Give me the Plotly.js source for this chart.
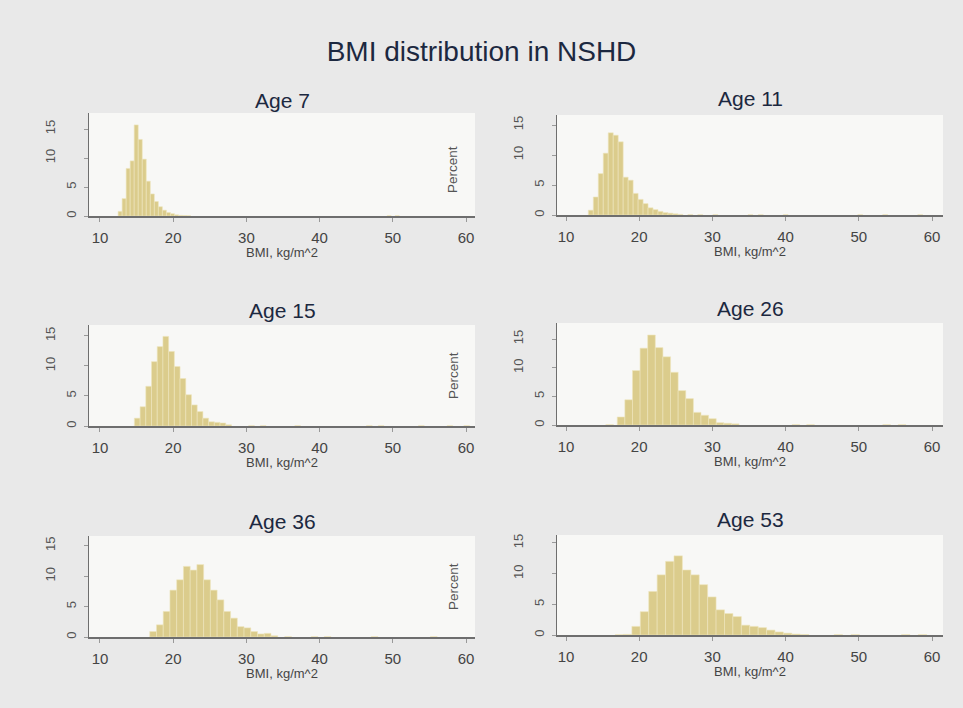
<!DOCTYPE html>
<html>
<head>
<meta charset="utf-8">
<script src="https://cdn.plot.ly/plotly-3.0.1.min.js"></script>
<style>
  html, body { margin: 0; padding: 0; background: #e9e9e9; }
  #chart { width: 963px; height: 708px; }
</style>
</head>
<body>
<div id="chart"></div>
<script>
// BMI histograms (percent of cohort per bin) at six ages
const ages = ['Age 7', 'Age 11', 'Age 15', 'Age 26', 'Age 36', 'Age 53'];

const age7Bins = [12.75, 13.3, 13.85, 14.4, 14.95, 15.5, 16.05, 16.6, 17.15, 17.7, 18.25, 18.8, 19.35, 19.9, 20.45, 21.0, 21.55, 22.1, 49.5, 50.6];
const age7Pct  = [0.8, 3.0, 8.2, 9.5, 15.7, 13.2, 9.8, 6.0, 3.8, 2.5, 1.6, 1.0, 0.6, 0.4, 0.2, 0.1, 0.08, 0.05, 0.05, 0.05];

const age11Bins = [13.39, 14.07, 14.75, 15.43, 16.11, 16.79, 17.47, 18.15, 18.83, 19.51, 20.19, 20.87, 21.55, 22.23, 22.91, 23.59, 24.27, 24.95, 25.63, 26.99, 28.35, 30.4, 35.2, 36.6, 40.0, 50.2, 53.6, 58.4];
const age11Pct  = [0.8, 3.0, 6.9, 10.3, 13.7, 13.3, 12.2, 6.3, 5.8, 3.6, 2.6, 1.9, 1.2, 0.9, 0.6, 0.4, 0.3, 0.2, 0.1, 0.06, 0.05, 0.04, 0.04, 0.04, 0.04, 0.04, 0.04, 0.04];

const age15Bins = [15.09, 15.87, 16.65, 17.43, 18.21, 18.99, 19.77, 20.55, 21.33, 22.11, 22.89, 23.67, 24.45, 25.23, 26.01, 26.79, 27.57, 30.7, 32.3, 37.0, 46.8, 48.4, 53.9, 57.8, 60.1];
const age15Pct  = [1.3, 3.2, 6.6, 10.7, 13.2, 14.9, 12.4, 9.9, 7.9, 5.2, 3.5, 2.4, 1.3, 0.7, 0.6, 0.5, 0.2, 0.04, 0.04, 0.04, 0.04, 0.04, 0.04, 0.04, 0.04];

const age26Bins = [15.96, 17.52, 18.56, 19.60, 20.64, 21.68, 22.72, 23.76, 24.80, 25.84, 26.88, 27.92, 28.96, 30.00, 31.04, 32.08, 33.12, 41.4, 43.4, 53.8, 55.9];
const age26Pct  = [0.05, 1.4, 4.4, 9.5, 13.4, 15.7, 13.5, 11.9, 9.2, 6.0, 4.6, 2.2, 1.7, 1.1, 0.4, 0.3, 0.2, 0.05, 0.05, 0.05, 0.05];

const age36Bins = [17.26, 18.18, 19.10, 20.02, 20.94, 21.86, 22.78, 23.70, 24.62, 25.54, 26.46, 27.38, 28.30, 29.22, 30.14, 31.06, 31.98, 32.90, 33.82, 35.7, 39.3, 41.1, 47.5, 55.6];
const age36Pct  = [0.9, 2.0, 4.2, 7.7, 9.4, 11.6, 11.0, 11.9, 9.4, 7.7, 6.1, 4.2, 3.1, 1.7, 1.5, 0.9, 0.5, 0.6, 0.2, 0.05, 0.05, 0.05, 0.05, 0.05];

const age53Bins = [17.3, 18.4, 19.575, 20.725, 21.875, 23.025, 24.175, 25.325, 26.475, 27.625, 28.775, 29.925, 31.075, 32.225, 33.375, 34.525, 35.675, 36.825, 37.975, 39.125, 40.275, 41.425, 42.6, 47.2, 49.5, 56.4, 58.7];
const age53Pct  = [0.05, 0.1, 1.4, 3.8, 7.1, 9.8, 12.0, 12.9, 10.6, 9.8, 8.2, 6.2, 4.1, 3.5, 3.0, 1.6, 1.4, 1.2, 0.8, 0.5, 0.3, 0.15, 0.08, 0.05, 0.05, 0.05, 0.05];

// histogram bin width used for each age
const binWidths = [0.55, 0.68, 0.78, 1.04, 0.92, 1.15];

const xTickVals = [10, 20, 30, 40, 50, 60];
const yTickVals = [0, 5, 10, 15];
const xTitle = 'BMI, kg/m^2';
const yTitle = 'Percent';
const mainTitle = 'BMI distribution in NSHD';

const allBins = [age7Bins, age11Bins, age15Bins, age26Bins, age36Bins, age53Bins];
const allPct  = [age7Pct, age11Pct, age15Pct, age26Pct, age36Pct, age53Pct];

// ---- page geometry (pixels) ----
const W = 963, H = 708;
const frames = [
  { px: [89, 475],  py: [113, 216], xr: [8.5, 61.23],  ytop: 17.76, ty: 100 },
  { px: [557, 943], py: [115, 215], xr: [8.77, 61.5],  ytop: 16.67, ty: 99 },
  { px: [89, 475],  py: [325, 426], xr: [8.5, 61.23],  ytop: 16.8,  ty: 310 },
  { px: [557, 943], py: [323, 425], xr: [8.77, 61.5],  ytop: 17.8,  ty: 309 },
  { px: [89, 475],  py: [536, 637], xr: [8.5, 61.23],  ytop: 16.6,  ty: 521 },
  { px: [557, 943], py: [535, 635], xr: [8.77, 61.5],  ytop: 16.3,  ty: 519 }
];
const percentRows = [170, 376, 587];

const FONT = 'Liberation Sans, Arial, sans-serif';
const NAVY = '#1c2840';
const AXIS = '#6e6e6e';
const BAR = 'rgb(219,204,140)';
const BAR_EDGE = 'rgb(238,230,190)';

const data = [];
const layout = {
  width: W, height: H,
  margin: { l: 0, r: 0, t: 0, b: 0 },
  paper_bgcolor: '#e9e9e9',
  plot_bgcolor: '#f8f8f6',
  showlegend: false,
  hovermode: false,
  font: { family: FONT, color: '#444' },
  title: {
    text: mainTitle,
    font: { family: FONT, size: 28, color: NAVY },
    x: 0.5, xanchor: 'center',
    y: 1 - 51 / H, yanchor: 'middle'
  },
  annotations: [],
  shapes: []
};

frames.forEach((f, i) => {
  const n = i + 1;
  const xa = n === 1 ? 'xaxis' : 'xaxis' + n;
  const ya = n === 1 ? 'yaxis' : 'yaxis' + n;
  const xr = n === 1 ? 'x' : 'x' + n;
  const yr = n === 1 ? 'y' : 'y' + n;
  const yLabId = 'y' + (n + 6);
  const yLab = 'yaxis' + (n + 6);

  data.push({
    type: 'bar',
    x: allBins[i],
    y: allPct[i],
    width: binWidths[i],
    xaxis: xr, yaxis: yr,
    marker: { color: BAR, line: { color: BAR_EDGE, width: 0.6 } }
  });
  // empty trace so the overlaid label axis gets drawn
  data.push({ type: 'scatter', mode: 'markers', x: [], y: [], xaxis: xr, yaxis: yLabId });

  layout[xa] = {
    domain: [f.px[0] / W, f.px[1] / W],
    anchor: yr,
    range: f.xr,
    tickvals: xTickVals,
    ticks: 'outside', ticklen: 4, tickwidth: 1, tickcolor: '#999',
    showline: true, linecolor: AXIS, linewidth: 1.5,
    showgrid: false, zeroline: false,
    tickfont: { family: FONT, size: 15, color: '#444' },
    ticklabelstandoff: 3,
    title: { text: xTitle, font: { family: FONT, size: 13, color: '#444' }, standoff: 1 }
  };

  // one-digit labels (0, 5) on the main axis
  layout[ya] = {
    domain: [1 - f.py[1] / H, 1 - f.py[0] / H],
    anchor: xr,
    range: [0, f.ytop],
    tickvals: yTickVals,
    ticktext: ['0', '5', '', ''],
    tickangle: -90,
    ticks: 'outside', ticklen: 4, tickwidth: 1, tickcolor: '#999',
    showline: true, linecolor: AXIS, linewidth: 1.5,
    showgrid: false, zeroline: false,
    tickfont: { family: FONT, size: 13, color: '#555' },
    ticklabelstandoff: 2
  };

  // two-digit labels (10, 15) sit further out from the axis line
  layout[yLab] = {
    overlaying: yr,
    anchor: xr,
    side: 'left',
    range: [0, f.ytop],
    tickvals: [10, 15],
    ticktext: ['10', '15'],
    tickangle: -90,
    ticks: '',
    showline: false, showgrid: false, zeroline: false,
    tickfont: { family: FONT, size: 13, color: '#555' },
    ticklabelstandoff: 30
  };

  layout.annotations.push({
    xref: 'paper', yref: 'paper',
    x: (f.px[0] + f.px[1]) / 2 / W, y: 1 - f.ty / H,
    xanchor: 'center', yanchor: 'middle',
    text: ages[i], showarrow: false,
    font: { family: FONT, size: 21, color: NAVY }
  });
});

// y-axis title of the right-hand column, placed in the gutter between columns
percentRows.forEach(py => {
  layout.annotations.push({
    xref: 'paper', yref: 'paper',
    x: 453 / W, y: 1 - py / H,
    xanchor: 'center', yanchor: 'middle',
    text: yTitle, textangle: -90, showarrow: false,
    font: { family: FONT, size: 13.5, color: '#555' }
  });
});

Plotly.newPlot('chart', data, layout, { staticPlot: true, displayModeBar: false });
</script>
</body>
</html>
